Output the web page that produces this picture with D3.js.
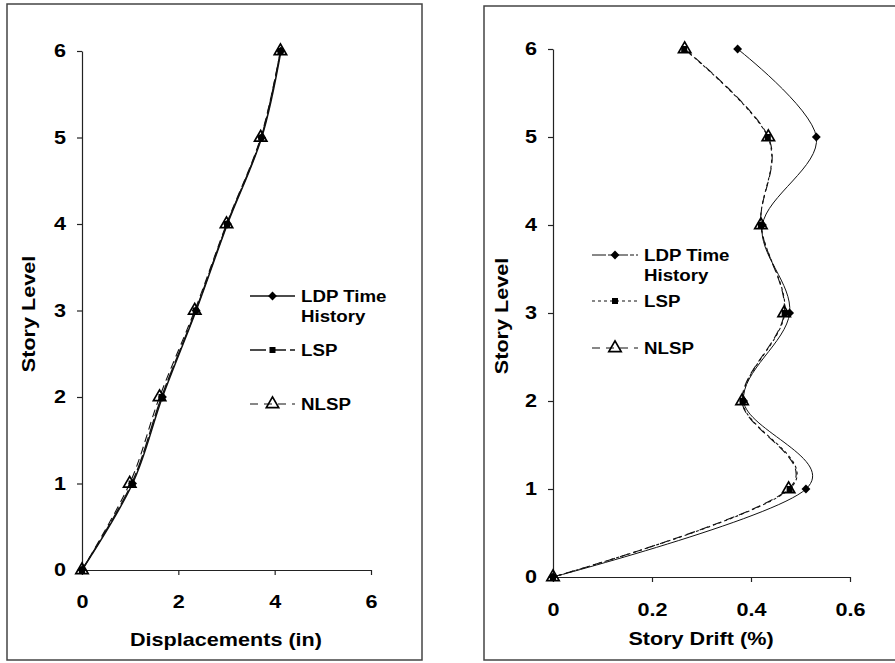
<!DOCTYPE html>
<html>
<head>
<meta charset="utf-8">
<script src="https://cdn.jsdelivr.net/npm/d3@7"></script>
<style>
  body { margin: 0; background: #fff; }
  svg text { font-family: Arial, "Liberation Sans", sans-serif; fill: #000; }
</style>
</head>
<body>
<svg class="main" width="895" height="663"></svg>
<script>
// story levels (shared y values)
var LEVELS = [0, 1, 2, 3, 4, 5, 6];

// left panel: displacements (in)
var DISP_LDP = [0, 1.05, 1.67, 2.37, 3.02, 3.73, 4.13];
var DISP_LSP = [0, 1.03, 1.65, 2.36, 3.01, 3.72, 4.12];
var DISP_NLSP = [0, 0.99, 1.61, 2.34, 3.00, 3.71, 4.12];

// right panel: story drift (%)
var DRIFT_LDP = [0, 0.511, 0.385, 0.478, 0.423, 0.532, 0.373];
var DRIFT_LSP = [0, 0.478, 0.383, 0.468, 0.420, 0.434, 0.265];
var DRIFT_NLSP = [0, 0.476, 0.382, 0.467, 0.420, 0.435, 0.266];

var DISP_TICKS = [0, 2, 4, 6];
var DRIFT_TICKS = [0, 0.2, 0.4, 0.6];
var LEVEL_TICKS = [0, 1, 2, 3, 4, 5, 6];

var SERIES_NAMES = ["LDP Time|History", "LSP", "NLSP"];

var STRETCH = 'scale(1.2,1)';
var svg = d3.select('svg.main');

function markerPath(kind) {
  if (kind == 'diamond') return d3.symbol().type(d3.symbolDiamond2).size(50)();
  if (kind == 'square') return d3.symbol().type(d3.symbolSquare).size(36)();
  return d3.symbol().type(d3.symbolTriangle).size(66)();
}

function drawMarker(g, kind, x, y) {
  var p = g.append('path')
    .attr('d', markerPath(kind))
    .attr('transform', 'translate(' + x + ',' + y + ')');
  if (kind == 'triangle') {
    p.attr('fill', 'none').attr('stroke', '#000').attr('stroke-width', 1.7);
  } else {
    p.attr('fill', '#000');
  }
}

function drawPanel(opt) {
  var x = d3.scaleLinear().domain(opt.xDomain).range(opt.xRange);
  var y = d3.scaleLinear().domain([0, 6]).range(opt.yRange);

  // frame
  svg.append('rect')
    .attr('x', opt.frame[0]).attr('y', opt.frame[1])
    .attr('width', opt.frame[2]).attr('height', opt.frame[3])
    .attr('fill', 'none').attr('stroke', '#444').attr('stroke-width', 1.5);

  // axes
  var xAxis = svg.append('g')
    .attr('transform', 'translate(0,' + opt.yRange[0] + ')')
    .call(d3.axisBottom(x).tickValues(opt.xTicks).tickSize(5).tickSizeOuter(0).tickFormat(opt.xFormat));
  xAxis.selectAll('text')
    .attr('y', opt.xLabelOffset)
    .attr('transform', STRETCH)
    .style('font-size', '18px').style('font-weight', 'bold');

  var yAxis = svg.append('g')
    .attr('transform', 'translate(' + opt.xRange[0] + ',0)')
    .call(d3.axisLeft(y).tickValues(LEVEL_TICKS).tickSize(5).tickSizeOuter(0).tickFormat(d3.format('d')));
  yAxis.selectAll('text')
    .attr('x', 0)
    .attr('transform', 'translate(-16,0) ' + STRETCH)
    .style('font-size', '18px').style('font-weight', 'bold');

  svg.selectAll('.domain, .tick line').attr('stroke', '#222').attr('stroke-width', 1.2);

  // titles
  svg.append('text')
    .attr('transform', 'translate(' + opt.xTitle[0] + ',' + opt.xTitle[1] + ') ' + STRETCH)
    .attr('text-anchor', 'middle')
    .style('font-size', '18px').style('font-weight', 'bold')
    .text(opt.xTitleText);

  svg.append('text')
    .attr('transform', 'translate(' + opt.yTitle[0] + ',' + opt.yTitle[1] + ') rotate(-90) ' + STRETCH)
    .attr('text-anchor', 'middle')
    .style('font-size', '18px').style('font-weight', 'bold')
    .text('Story Level');

  // series
  var line = d3.line()
    .x(function(d) { return x(d[0]); })
    .y(function(d) { return y(d[1]); })
    .curve(d3.curveCardinal.tension(0));

  var plot = svg.append('g');
  opt.series.forEach(function(s) {
    var pts = s.values.map(function(v, i) { return [v, LEVELS[i]]; });
    plot.append('path')
      .datum(pts)
      .attr('d', line)
      .attr('fill', 'none')
      .attr('stroke', '#111')
      .attr('stroke-width', s.width)
      .attr('stroke-dasharray', s.dash);
  });
  opt.series.forEach(function(s) {
    s.values.forEach(function(v, i) {
      drawMarker(plot, s.marker, x(v), y(LEVELS[i]));
    });
  });

  // legend
  var leg = svg.append('g');
  opt.series.forEach(function(s, i) {
    var ly = opt.legendRows[i];
    leg.append('line')
      .attr('x1', opt.legendX[0]).attr('x2', opt.legendX[1])
      .attr('y1', ly).attr('y2', ly)
      .attr('stroke', '#111').attr('stroke-width', s.width)
      .attr('stroke-dasharray', s.legendDash);
    drawMarker(leg, s.marker, (opt.legendX[0] + opt.legendX[1]) / 2, ly);
    var parts = SERIES_NAMES[i].split('|');
    parts.forEach(function(t, j) {
      leg.append('text')
        .attr('transform', 'translate(' + (opt.legendX[1] + 6) + ',' + (ly + 6 + j * 20) + ') scale(1.1,1)')
        .style('font-size', '17px')
        .style('font-weight', 'bold')
        .text(t);
    });
  });
}

function main() {
  drawPanel({
    frame: [7, 4, 415, 656],
    xDomain: [0, 6], xRange: [82, 371], yRange: [570, 51],
    xTicks: DISP_TICKS, xFormat: d3.format('d'), xLabelOffset: 25,
    xTitle: [226, 646], xTitleText: 'Displacements (in)',
    yTitle: [35, 314],
    series: [
      { values: DISP_LDP, marker: 'diamond', width: 1.5, dash: null, legendDash: null },
      { values: DISP_LSP, marker: 'square', width: 1.3, dash: '16,3', legendDash: '16,4' },
      { values: DISP_NLSP, marker: 'triangle', width: 1.1, dash: '8,5', legendDash: '8,6' }
    ],
    legendX: [250, 295], legendRows: [296, 350, 404]
  });

  drawPanel({
    frame: [484, 6, 440, 654],
    xDomain: [0, 0.6], xRange: [553, 850], yRange: [577, 49],
    xTicks: DRIFT_TICKS, xFormat: function(d) { return d == 0 ? '0' : d3.format('.1f')(d); }, xLabelOffset: 26,
    xTitle: [701, 645], xTitleText: 'Story Drift (%)',
    yTitle: [508, 316],
    series: [
      { values: DRIFT_LDP, marker: 'diamond', width: 1.0, dash: null, legendDash: '14,2,4,2' },
      { values: DRIFT_LSP, marker: 'square', width: 1.1, dash: '3,3', legendDash: '3,3' },
      { values: DRIFT_NLSP, marker: 'triangle', width: 1.1, dash: '9,5', legendDash: '8,6' }
    ],
    legendX: [592, 638], legendRows: [255, 301, 348]
  });
}

main();
</script>
</body>
</html>
